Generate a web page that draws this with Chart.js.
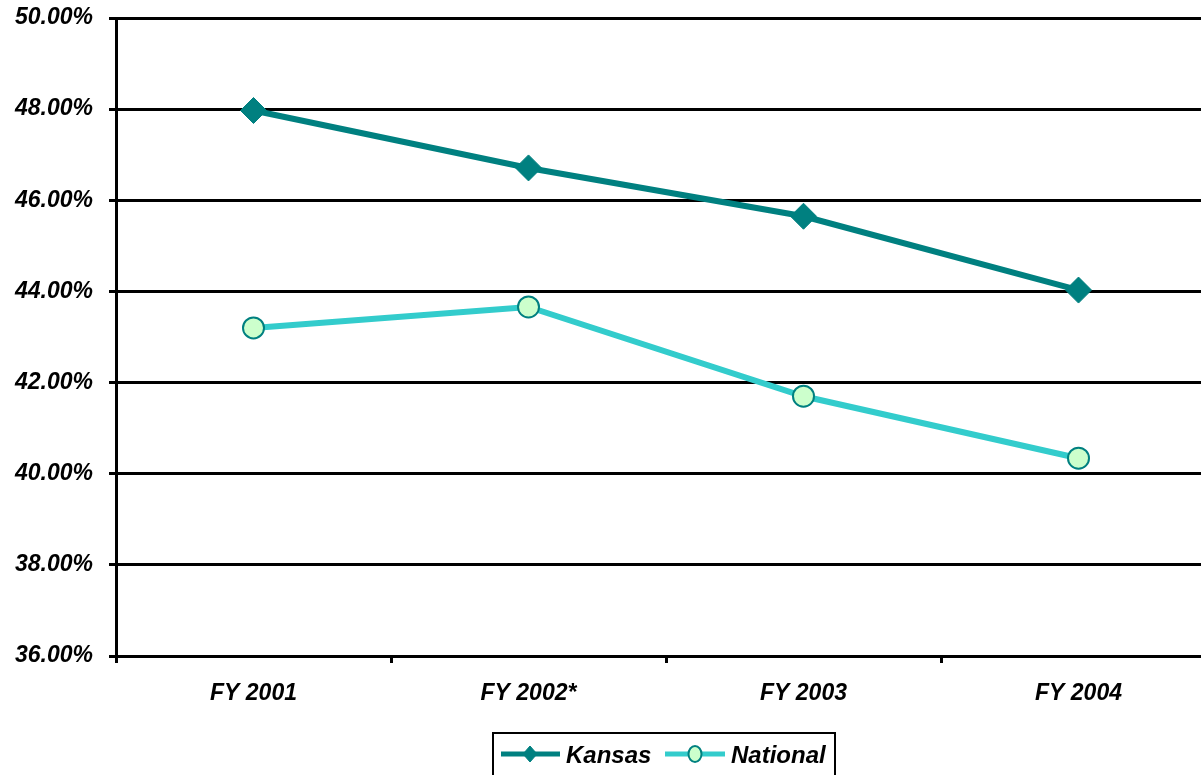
<!DOCTYPE html>
<html>
<head>
<meta charset="utf-8">
<script src="https://cdn.jsdelivr.net/npm/chart.js@4.4.1/dist/chart.umd.min.js"></script>
<style>
  html, body { margin: 0; padding: 0; background: #fff; overflow: hidden; }
  #wrap { position: relative; width: 1201px; height: 775px; overflow: hidden; }
  #c { display: block; }
</style>
</head>
<body>
<div id="wrap"><canvas id="c" width="1230" height="775" style="width:1230px;height:775px"></canvas></div>
<script>
const categories = ['FY 2001', 'FY 2002*', 'FY 2003', 'FY 2004'];
const kansas = [47.97, 46.71, 45.65, 44.03];
const national = [43.20, 43.66, 41.70, 40.34];
const seriesNames = ['Kansas', 'National'];
const yMin = 36, yMax = 50, yStep = 2;

const FONT = '"Liberation Sans", Arial, sans-serif';

const legendPlugin = {
  id: 'boxLegend',
  afterDraw(chart) {
    const ctx = chart.ctx;
    const boxL = 493, boxR = 835, boxT = 733, boxB = 800;
    ctx.save();
    ctx.strokeStyle = '#000';
    ctx.lineWidth = 2;
    ctx.strokeRect(boxL, boxT, boxR - boxL, boxB - boxT);
    const yc = 754;
    const ds = chart.data.datasets;
    const items = [
      { x0: 501, x1: 560, mx: 530, tx: 566, d: ds[0] },
      { x0: 665, x1: 725, mx: 695, tx: 731, d: ds[1] }
    ];
    items.forEach(it => {
      ctx.strokeStyle = it.d.borderColor;
      ctx.lineWidth = 5;
      ctx.lineCap = 'butt';
      ctx.beginPath();
      ctx.moveTo(it.x0, yc);
      ctx.lineTo(it.x1, yc);
      ctx.stroke();
      ctx.fillStyle = it.d.pointBackgroundColor;
      ctx.strokeStyle = it.d.pointBorderColor;
      ctx.lineWidth = it.d.pointBorderWidth;
      ctx.beginPath();
      if (it.d.pointStyle === 'circle') {
        ctx.ellipse(it.mx, yc, 6.5, 8, 0, 0, Math.PI * 2);
      } else {
        ctx.moveTo(it.mx - 7, yc);
        ctx.lineTo(it.mx, yc - 8);
        ctx.lineTo(it.mx + 7, yc);
        ctx.lineTo(it.mx, yc + 8);
        ctx.closePath();
      }
      ctx.fill();
      ctx.stroke();
      ctx.fillStyle = '#000';
      ctx.font = 'italic bold 24px ' + FONT;
      ctx.textBaseline = 'middle';
      ctx.textAlign = 'left';
      ctx.fillText(it.d.label, it.tx, yc + 2);
    });
    ctx.restore();
  }
};

const bgPlugin = {
  id: 'bg',
  beforeDraw(chart) {
    const ctx = chart.ctx;
    ctx.save();
    ctx.fillStyle = '#fff';
    ctx.fillRect(0, 0, chart.width, chart.height);
    ctx.restore();
  }
};

new Chart(document.getElementById('c'), {
  type: 'line',
  data: {
    labels: categories,
    datasets: [
      {
        label: seriesNames[0],
        data: kansas,
        borderColor: '#008080',
        borderWidth: 6,
        pointStyle: 'rectRot',
        pointRadius: 13,
        pointBackgroundColor: '#008080',
        pointBorderColor: '#008080',
        pointBorderWidth: 1,
        tension: 0
      },
      {
        label: seriesNames[1],
        data: national,
        borderColor: '#33CCCC',
        borderWidth: 6,
        pointStyle: 'circle',
        pointRadius: 10.5,
        pointBackgroundColor: '#CCFFCC',
        pointBorderColor: '#008080',
        pointBorderWidth: 2,
        tension: 0
      }
    ]
  },
  options: {
    responsive: false,
    devicePixelRatio: 1,
    animation: false,
    layout: { padding: { top: 18, right: 2, left: 0, bottom: 0 } },
    plugins: {
      legend: { display: false },
      tooltip: { enabled: false }
    },
    scales: {
      x: {
        offset: true,
        afterFit(s) { s.height = 119; s.paddingLeft = 0; s.paddingRight = 0; },
        grid: {
          offset: true,
          drawOnChartArea: false,
          drawTicks: true,
          tickLength: 7,
          color: '#000',
          lineWidth: 3
        },
        border: { display: true, color: '#000', width: 3 },
        ticks: {
          color: '#000',
          padding: 17,
          font: { family: FONT, size: 23, style: 'italic', weight: 'bold' }
        }
      },
      y: {
        min: yMin,
        max: yMax,
        afterFit(s) { s.width = 116; s.paddingTop = 0; s.paddingBottom = 0; },
        grid: {
          color: '#000',
          lineWidth: 3,
          tickLength: 7
        },
        border: { display: true, color: '#000', width: 3 },
        ticks: {
          stepSize: yStep,
          color: '#000',
          padding: 16,
          font: { family: FONT, size: 23, style: 'italic', weight: 'bold' },
          callback: v => v.toFixed(2) + '%'
        }
      }
    }
  },
  plugins: [bgPlugin, legendPlugin]
});
</script>
</body>
</html>
